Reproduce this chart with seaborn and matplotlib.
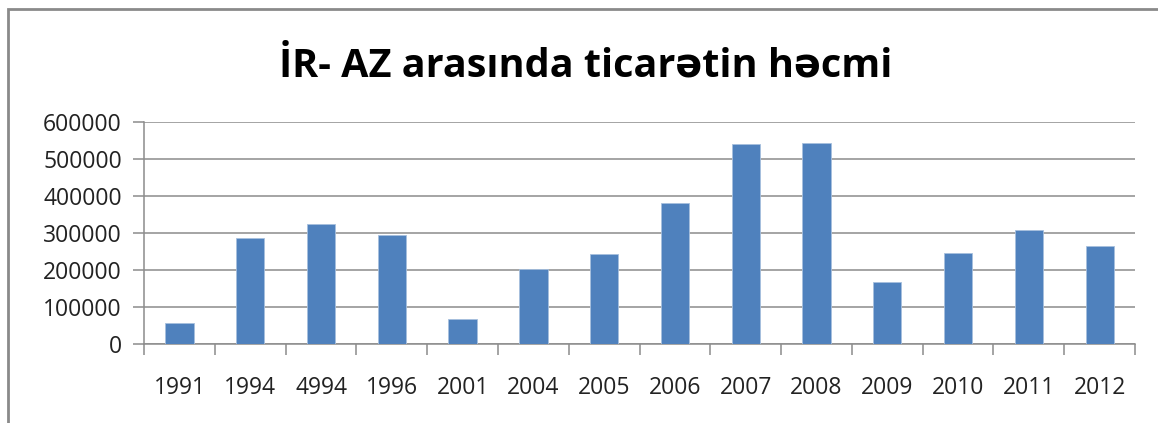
import numpy as np
import pandas as pd
import matplotlib
matplotlib.use("Agg")
import matplotlib.pyplot as plt
import seaborn as sns
from matplotlib.patches import Rectangle

# data
years = ["1991", "1994", "4994", "1996", "2001", "2004", "2005",
         "2006", "2007", "2008", "2009", "2010", "2011", "2012"]
volume = [57000, 286000, 324000, 294000, 67000, 202000, 242000,
          380000, 540000, 543000, 168000, 245000, 308000, 266000]
y_ticks = [0, 100000, 200000, 300000, 400000, 500000, 600000]

df = pd.DataFrame({"year": years, "volume": volume})

sns.set_theme(style="white")
plt.rcParams["font.family"] = ["Open Sans", "DejaVu Sans"]

fig = plt.figure(figsize=(11.58, 4.23), dpi=100)
ax = fig.add_axes([0.1244, 0.1868, 0.8558, 0.5248])

sns.barplot(data=df, x="year", y="volume", color="#4F81BD", width=0.4,
            saturation=1, ax=ax, edgecolor="#A7C0DE", linewidth=0.6, zorder=3)

grid_col = "#8C8C8C"
ax.set_ylim(0, 600000)
ax.set_xlim(-0.5, len(years) - 0.5)
ax.set_yticks(y_ticks)
ax.set_yticklabels([str(v) for v in y_ticks], fontsize=16.5, color="#222222")
ax.yaxis.grid(True, color=grid_col, linewidth=1.1, zorder=0)
ax.set_axisbelow(True)

# Excel style: ticks between categories
ax.set_xticks(np.arange(-0.5, len(years), 1.0))
ax.set_xticklabels([])
ax.set_xticks(np.arange(len(years)), minor=True)
ax.set_xticklabels(years, minor=True, fontsize=16.5, color="#222222")
ax.tick_params(axis="x", which="major", direction="out", length=8,
               width=1.1, color=grid_col, bottom=True)
ax.tick_params(axis="x", which="minor", length=0, pad=23)
ax.tick_params(axis="y", direction="out", length=8, width=1.1,
               color=grid_col, left=True, pad=8)

for side in ["top", "right"]:
    ax.spines[side].set_visible(False)
for side in ["left", "bottom"]:
    ax.spines[side].set_color(grid_col)
    ax.spines[side].set_linewidth(1.1)

ax.set_xlabel("")
ax.set_ylabel("")

fig.text(0.506, 0.82, "İR- AZ arasında ticarətin həcmi", ha="center",
         va="baseline", fontsize=28.5, fontweight="bold", color="black")

# outer chart frame (runs off the right and bottom edges)
fig.patches.append(Rectangle((8 / 1158, -0.1), 1.2, 1 - 9 / 423 + 0.1,
                             transform=fig.transFigure, fill=False,
                             edgecolor="#8A8A8A", linewidth=2))

fig.savefig("out.png", dpi=100, facecolor="white")
